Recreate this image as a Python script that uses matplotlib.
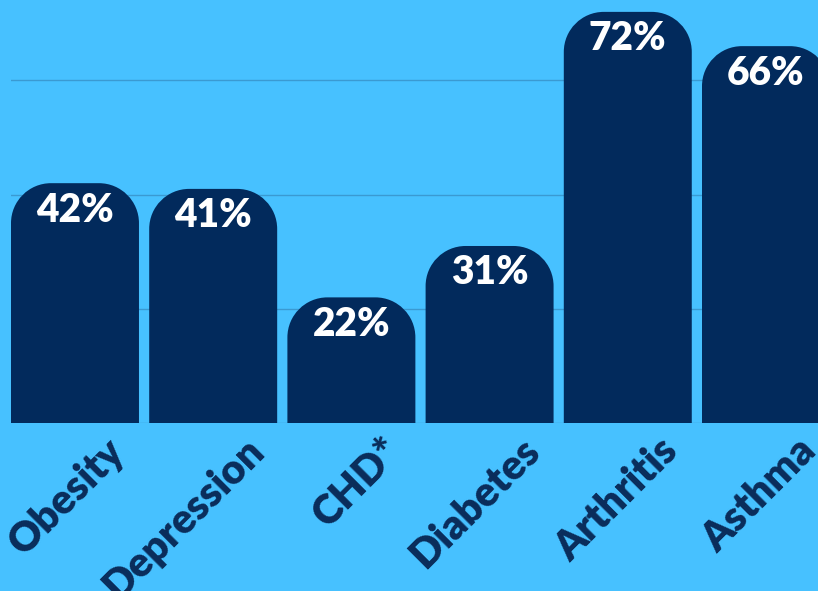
#!/usr/bin/env python3
"""Bar chart: prevalence by condition, rounded-top bars on light blue."""
import numpy as np
import matplotlib
matplotlib.use('Agg')
import matplotlib.pyplot as plt
from matplotlib.path import Path
from matplotlib.patches import PathPatch

matplotlib.rcParams.update({
    'font.family': ['Lato', 'DejaVu Sans'],
    'font.weight': 'bold',
})

CATEGORIES = ['Obesity', 'Depression', 'CHD*', 'Diabetes', 'Arthritis', 'Asthma']
VALUES = [42, 41, 22, 31, 72, 66]
LABELS = ['42%', '41%', '22%', '31%', '72%', '66%']
GRID_TICKS = [0, 20, 40, 60]

BG = '#47C1FF'
BAR = '#022A5C'
GRID = '#3A9AD2'
TEXT_DARK = '#0A2C5A'

W, H = 818, 591
BAR_W = 0.926
RADIUS_PX = 40


def rounded_top(x0, y0, w, h, rx, ry):
    """Path for a bar with rounded top corners (rx, ry in data units)."""
    k = 0.5523
    x1, y1 = x0 + w, y0 + h
    verts = [
        (x0, y0), (x1, y0), (x1, y1 - ry),
        (x1, y1 - ry + k * ry), (x1 - rx + k * rx, y1), (x1 - rx, y1),
        (x0 + rx, y1),
        (x0 + rx - k * rx, y1), (x0, y1 - ry + k * ry), (x0, y1 - ry),
        (x0, y0), (x0, y0),
    ]
    codes = [Path.MOVETO, Path.LINETO, Path.LINETO,
             Path.CURVE4, Path.CURVE4, Path.CURVE4,
             Path.LINETO,
             Path.CURVE4, Path.CURVE4, Path.CURVE4,
             Path.LINETO, Path.CLOSEPOLY]
    return Path(verts, codes)


def main():
    fig = plt.figure(figsize=(W / 100, H / 100), dpi=100)
    fig.patch.set_facecolor(BG)

    # axes: left at bar edge, baseline at y=423px, pitch ~138px per bar
    pitch = 138.2
    px_per_pct = 5.71
    left_px, base_px = 11, 423
    n = len(CATEGORIES)
    ax_w_px = pitch * n
    ax_h_px = base_px
    ax = fig.add_axes([left_px / W, (H - base_px) / H, ax_w_px / W, ax_h_px / H])
    ax.set_facecolor(BG)
    xmin = -BAR_W / 2
    ax.set_xlim(xmin, xmin + n)
    ax.set_ylim(0, base_px / px_per_pct)

    for t in GRID_TICKS:
        ax.axhline(t, color=GRID, lw=1.0, zorder=0)

    x = np.arange(n)
    bars = ax.bar(x, VALUES, width=BAR_W, color=BAR)
    rx = RADIUS_PX / pitch
    ry = RADIUS_PX / px_per_pct
    for b in bars:
        b.set_visible(False)
        p = rounded_top(b.get_x(), b.get_y(), b.get_width(), b.get_height(), rx, ry)
        ax.add_patch(PathPatch(p, facecolor=BAR, edgecolor='none', zorder=2))

    for xi, v, lab in zip(x, VALUES, LABELS):
        ax.annotate(lab, (xi, v), xytext=(0, -27), textcoords='offset pixels',
                    ha='center', va='center', color='white', fontsize=28,
                    fontweight='heavy', zorder=3)

    ax.set_xticks(x)
    ax.set_xticklabels([])
    for xi, cat in zip(x, CATEGORIES):
        ax.annotate(cat, (xi, 0), xytext=(44, -22), textcoords='offset pixels',
                    ha='right', va='center', rotation=45, rotation_mode='anchor',
                    color=TEXT_DARK, fontsize=29.5, fontweight='heavy',
                    annotation_clip=False)

    ax.tick_params(left=False, bottom=False, labelleft=False)
    for s in ax.spines.values():
        s.set_visible(False)

    fig.savefig('out.png', dpi=100, facecolor=BG)
    plt.close(fig)


if __name__ == '__main__':
    main()
